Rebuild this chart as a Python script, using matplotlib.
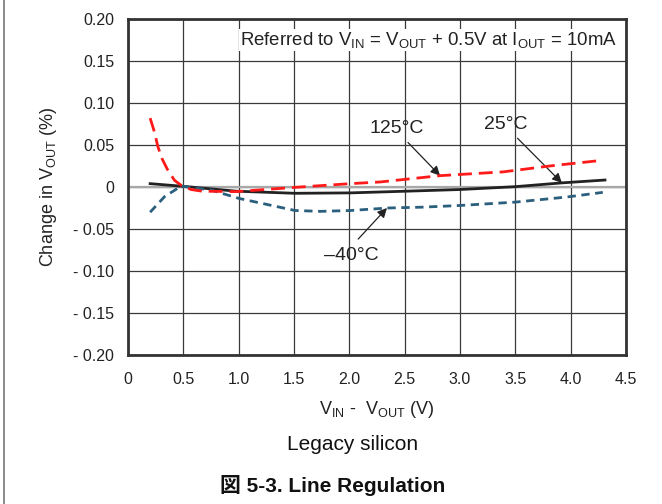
import matplotlib
matplotlib.use("Agg")
import matplotlib.pyplot as plt
from matplotlib.lines import Line2D

plt.rcParams['font.family'] = ['Liberation Sans', 'Noto Sans CJK JP', 'DejaVu Sans']
plt.rcParams['mathtext.fontset'] = 'custom'
plt.rcParams['mathtext.rm'] = 'Liberation Sans'
plt.rcParams['mathtext.it'] = 'Liberation Sans:italic'
plt.rcParams['mathtext.bf'] = 'Liberation Sans:bold'

# Data
x_125 = [0.20, 0.24, 0.27, 0.31, 0.36, 0.42, 0.48, 0.57, 0.67, 0.98, 1.51, 2.01, 2.28, 2.82, 3.39, 3.81, 4.23]
y_125 = [0.082, 0.065, 0.048, 0.033, 0.020, 0.008, 0.002, -0.003, -0.005, -0.0055, -0.0004, 0.004, 0.006, 0.0135, 0.018, 0.025, 0.031]

x_25 = [0.20, 0.48, 0.98, 1.51, 2.01, 2.66, 3.00, 3.50, 3.93, 4.31]
y_25 = [0.004, 0.001, -0.005, -0.0075, -0.007, -0.0044, -0.003, 0.0004, 0.005, 0.0083]

x_m40 = [0.20, 0.33, 0.48, 0.75, 1.00, 1.51, 1.74, 2.01, 2.35, 2.66, 3.00, 3.50, 3.96, 4.29]
y_m40 = [-0.030, -0.0115, 0.001, -0.0036, -0.0135, -0.028, -0.029, -0.028, -0.025, -0.024, -0.022, -0.018, -0.012, -0.0064]

x_ticks = [0, 0.5, 1.0, 1.5, 2.0, 2.5, 3.0, 3.5, 4.0, 4.5]
x_ticklabels = ['0', '0.5', '1.0', '1.5', '2.0', '2.5', '3.0', '3.5', '4.0', '4.5']
y_ticks = [0.20, 0.15, 0.10, 0.05, 0, -0.05, -0.10, -0.15, -0.20]
y_ticklabels = ['0.20', '0.15', '0.10', '0.05', '0', '- 0.05', '- 0.10', '- 0.15', '- 0.20']

fig = plt.figure(figsize=(6.62, 5.04), dpi=100)
ax = fig.add_axes([128 / 662, 1 - 355 / 504, 498 / 662, 336 / 504])
ax.set_xlim(0, 4.5)
ax.set_ylim(-0.20, 0.20)
ax.set_xticks(x_ticks)
ax.set_xticklabels(x_ticklabels)
ax.set_yticks(y_ticks)
ax.set_yticklabels(y_ticklabels)
ax.tick_params(axis='x', length=0, labelsize=11.5, colors='#222222', pad=12)
ax.tick_params(axis='y', length=0, labelsize=11.5, colors='#222222', pad=10)
ax.grid(True, color='#3a3a3a', linewidth=0.9)
for s in ax.spines.values():
    s.set_linewidth(2)
    s.set_color('#333333')
ax.set_axisbelow(True)
ax.axhline(0, color='#a8a8a8', linewidth=1.6, zorder=1.5)

ax.plot(x_25, y_25, color='#222222', linewidth=2, zorder=3)
ax.plot(x_125, y_125, color='#ff1a1a', linewidth=2, dashes=(5, 2.5), zorder=4)
ax.plot(x_m40, y_m40, color='#2b5f7e', linewidth=2, dashes=(3, 2), zorder=3)

ap = dict(arrowstyle='-|>', color='#222222', linewidth=0.9, mutation_scale=14, shrinkA=0, shrinkB=0)
ax.text(2.43, 0.070, '125°C', ha='center', va='center', fontsize=14, color='#222222')
ax.annotate('', xy=(2.82, 0.0135), xytext=(2.53, 0.053), arrowprops=ap)
ax.text(3.41, 0.074, '25°C', ha='center', va='center', fontsize=14, color='#222222')
ax.annotate('', xy=(3.92, 0.005), xytext=(3.52, 0.058), arrowprops=ap)
ax.text(2.02, -0.082, '\u201340°C', ha='center', va='center', fontsize=14, color='#222222')
ax.annotate('', xy=(2.34, -0.025), xytext=(2.08, -0.062), arrowprops=ap)

ax.text(4.42, 0.175, r'Referred to $\mathregular{V_{IN}}$ = $\mathregular{V_{OUT}}$ + 0.5V at $\mathregular{I_{OUT}}$ = 10mA',
        ha='right', va='center', fontsize=13.4, color='#222222',
        bbox=dict(facecolor='white', edgecolor='none', pad=1))

ax.set_ylabel(r'Change in $\mathregular{V_{OUT}}$ (%)', fontsize=13, color='#222222', labelpad=10)
ax.set_xlabel(r'$\mathregular{V_{IN}}$ -  $\mathregular{V_{OUT}}$ (V)', fontsize=13, color='#222222', labelpad=9)

fig.text(353 / 662, 1 - 445 / 504, 'Legacy silicon', ha='center', va='center', fontsize=15, color='#111111')
fig.text(333 / 662, 1 - 485 / 504, '図 5-3. Line Regulation', ha='center', va='center',
         fontsize=15, fontweight='bold', color='#111111')

fig.add_artist(Line2D([3.5 / 662, 3.5 / 662], [0, 1], color='#777777', linewidth=1.2))

fig.savefig('out.png', dpi=100)
